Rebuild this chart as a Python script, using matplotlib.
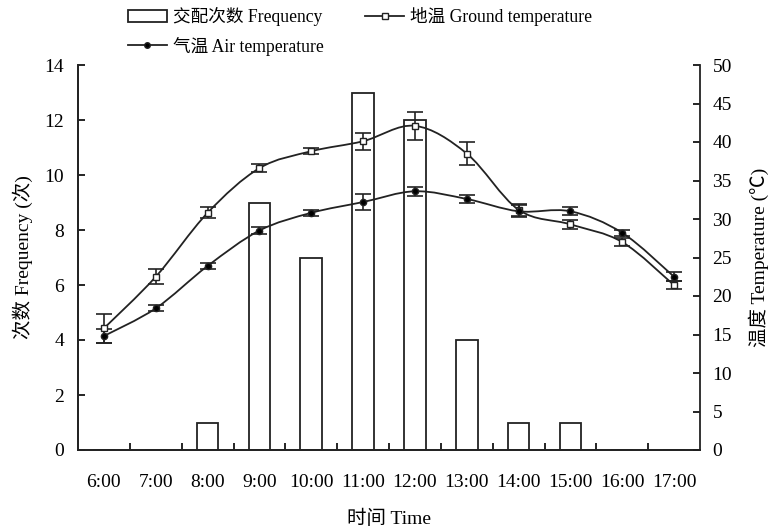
import numpy as np
import matplotlib
matplotlib.use("Agg")
import matplotlib.pyplot as plt
from matplotlib.path import Path
from matplotlib.patches import PathPatch, Patch
from matplotlib.lines import Line2D

plt.rcParams['font.family'] = ['Liberation Serif', 'Noto Sans CJK SC']
plt.rcParams['font.size'] = 14
plt.rcParams['axes.unicode_minus'] = False

times = ['6:00', '7:00', '8:00', '9:00', '10:00', '11:00',
         '12:00', '13:00', '14:00', '15:00', '16:00', '17:00']
frequency = [0, 0, 1, 9, 7, 13, 12, 4, 1, 1, 0, 0]
ground_temp = [15.8, 22.5, 30.8, 36.6, 38.8, 40.1, 42.1, 38.5, 31.2, 29.3, 27.0, 21.4]
ground_err = [1.9, 1.0, 0.7, 0.5, 0.4, 1.1, 1.8, 1.5, 0.8, 0.6, 0.5, 0.5]
air_temp = [14.8, 18.4, 23.9, 28.5, 30.8, 32.2, 33.6, 32.6, 31.0, 31.0, 28.2, 22.5]
air_err = [0.9, 0.4, 0.4, 0.4, 0.4, 1.0, 0.6, 0.5, 0.8, 0.5, 0.4, 0.6]


def smooth_path(x, y):
    # Excel-like smoothed line: cubic Bezier segments through the points
    x = np.asarray(x, float)
    y = np.asarray(y, float)
    verts = [(x[0], y[0])]
    codes = [Path.MOVETO]
    n = len(x)
    for i in range(n - 1):
        p0 = np.array([x[max(i - 1, 0)], y[max(i - 1, 0)]])
        p1 = np.array([x[i], y[i]])
        p2 = np.array([x[i + 1], y[i + 1]])
        p3 = np.array([x[min(i + 2, n - 1)], y[min(i + 2, n - 1)]])
        c1 = p1 + (p2 - p0) / 6.0
        c2 = p2 - (p3 - p1) / 6.0
        verts += [tuple(c1), tuple(c2), tuple(p2)]
        codes += [Path.CURVE4] * 3
    return Path(verts, codes)


fig = plt.figure(figsize=(7.7, 5.29), dpi=100)
ax = fig.add_axes([78 / 770, 79 / 529, 622 / 770, 385 / 529])
ax2 = ax.twinx()

xs = np.arange(len(times))
bars = ax.bar(xs, frequency, width=0.42, facecolor='white',
              edgecolor='#222222', linewidth=1.3)

for vals, errs, mk, fc in [(ground_temp, ground_err, 's', 'white'),
                           (air_temp, air_err, 'o', 'black')]:
    ax2.add_patch(PathPatch(smooth_path(xs, vals), facecolor='none',
                            edgecolor='#222222', linewidth=1.3, zorder=3))
    ax2.errorbar(xs, vals, yerr=errs, fmt='none', ecolor='#222222',
                 elinewidth=1.2, capsize=5.5, capthick=1.2, zorder=4)
    ax2.plot(xs, vals, linestyle='none', marker=mk, markersize=4.5,
             markerfacecolor=fc, markeredgecolor='#222222',
             markeredgewidth=1.0, zorder=5)

ax.set_xlim(-0.5, 11.5)
ax.set_ylim(0, 14)
ax.set_yticks(np.arange(0, 15, 2))
ax2.set_ylim(0, 50)
ax2.set_yticks(np.arange(0, 51, 5))

ax.set_xticks(xs)
ax.set_xticklabels(times)
ax.set_xticks(np.arange(0.5, 11, 1), minor=True)
ax.tick_params(axis='x', which='major', length=0, pad=17)
ax.tick_params(axis='x', which='minor', direction='in', length=5, width=1.2)
ax.tick_params(axis='y', direction='in', length=5, width=1.2, pad=10)
ax2.tick_params(axis='y', direction='in', length=5, width=1.2, pad=9)

for a in (ax, ax2):
    a.spines['top'].set_visible(False)
    for s in ('left', 'right', 'bottom'):
        a.spines[s].set_linewidth(1.3)
        a.spines[s].set_color('#222222')
ax.spines['right'].set_visible(False)

ax.set_xlabel('时间 Time', labelpad=14)
ax.set_ylabel('次数 Frequency (次)', labelpad=8)
ax2.set_ylabel('温度 Temperature (℃)', labelpad=12)

handles = [
    Patch(facecolor='white', edgecolor='#222222', linewidth=1.3),
    Line2D([], [], color='#222222', linewidth=1.3, marker='o', markersize=4,
           markerfacecolor='black', markeredgecolor='#222222'),
    Line2D([], [], color='#222222', linewidth=1.3, marker='s', markersize=4,
           markerfacecolor='white', markeredgecolor='#222222'),
]
labels = ['交配次数 Frequency', '气温 Air temperature', '地温 Ground temperature']
fig.legend(handles, labels, loc='upper left', bbox_to_anchor=(128 / 770, 1 - 7 / 529),
           ncol=2, frameon=False, borderpad=0, borderaxespad=0,
           handlelength=2.2, handleheight=0.7, handletextpad=0.35,
           columnspacing=2.35, labelspacing=0.6, numpoints=1, fontsize=12.7)

fig.savefig('out.png', dpi=100)
